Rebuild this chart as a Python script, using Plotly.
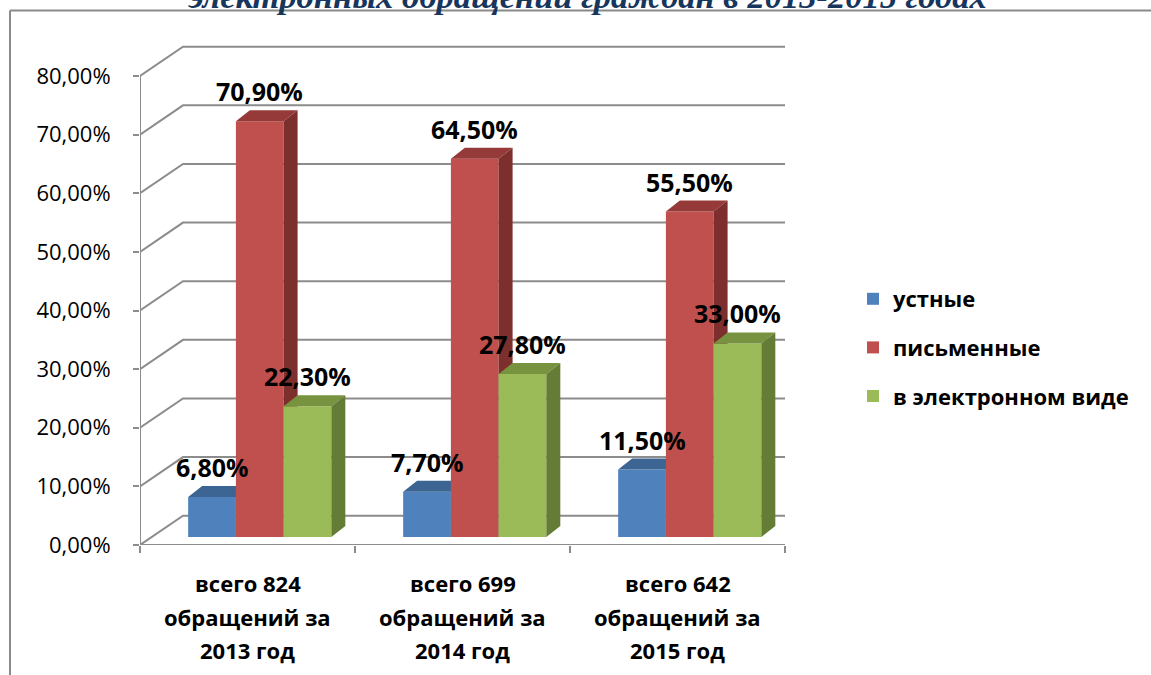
import plotly.graph_objects as go

# ---------------- data ----------------
categories = ["всего 824<br>обращений за<br>2013 год",
              "всего 699<br>обращений за<br>2014 год",
              "всего 642<br>обращений за<br>2015 год"]
series_names = ["устные", "письменные", "в электронном виде"]
oral = [6.8, 7.7, 11.5]
written = [70.9, 64.5, 55.5]
electronic = [22.3, 27.8, 33.0]
y_ticks = [0, 10, 20, 30, 40, 50, 60, 70, 80]
y_tick_labels = ["0,00%", "10,00%", "20,00%", "30,00%", "40,00%",
                 "50,00%", "60,00%", "70,00%", "80,00%"]
title_text = "электронных обращений граждан в 2013-2015 годах"

series_values = [oral, written, electronic]
front_colors = ["#4F81BD", "#C0504D", "#9BBB59"]
top_colors = ["#3D6594", "#953A38", "#77933F"]
side_colors = ["#345682", "#7C2F2D", "#647C36"]

# ---------------- geometry (in axis units) ----------------
W, H = 1151, 675
X0_PX, X1_PX = 140, 785       # front floor edge
Y0_PX, Y80_PX = 545, 76       # front 0% and 80%
YMAX = 88.0
ppu = (Y0_PX - Y80_PX) / 80.0
ytop_px = Y0_PX - YMAX * ppu

wall_dx, wall_dy = 0.2, 5.0    # depth of the back wall
bar_base = 1.37
bar_w = 0.222
group_shift = 0.057
bdx, bdy = 0.065, 1.88          # bar depth

fig = go.Figure()

def poly_trace(xs, ys, color):
    return go.Scatter(x=xs, y=ys, mode="lines", fill="toself", fillcolor=color,
                      line=dict(width=0, color=color), hoverinfo="skip",
                      showlegend=False)

label_annots = []
for s, vals in enumerate(series_values):
    fx, fy, tx, ty, sx, sy = [], [], [], [], [], []
    for i, v in enumerate(vals):
        xl = i + group_shift - 1.5 * bar_w + s * bar_w
        xr = xl + bar_w
        b = bar_base
        t = bar_base + v
        fx += [xl, xr, xr, xl, xl, None]
        fy += [b, b, t, t, b, None]
        tx += [xl, xr, xr + bdx, xl + bdx, xl, None]
        ty += [t, t, t + bdy, t + bdy, t, None]
        sx += [xr, xr + bdx, xr + bdx, xr, xr, None]
        sy += [b, b + bdy, t + bdy, t, b, None]
        label_annots.append(dict(
            x=(xl + xr) / 2, y=t + bdy, xref="x", yref="y",
            text=f"{v:.2f}".replace(".", ",") + "%", showarrow=False,
            yanchor="bottom", xanchor="center",
            font=dict(family="Open Sans", size=25, color="#000000", weight="bold")))
    fig.add_trace(poly_trace(fx, fy, front_colors[s]))
    fig.add_trace(poly_trace(tx, ty, top_colors[s]))
    fig.add_trace(poly_trace(sx, sy, side_colors[s]))

# legend entries
for s, name in enumerate(series_names):
    fig.add_trace(go.Scatter(x=[None], y=[None], mode="markers", name=name,
                             marker=dict(symbol="square", size=12, color=front_colors[s]),
                             legendgroup=f"g{s}"))

# ---------------- walls, gridlines, floor ----------------
grid_col = "#8C8C8C"
shapes = []
for v in y_ticks:
    shapes.append(dict(type="path", xref="x", yref="y", layer="below",
                       path=f"M -0.5,{v} L {-0.5 + wall_dx},{v + wall_dy} L {2.5 + wall_dx},{v + wall_dy}",
                       line=dict(color=grid_col, width=2)))
# floor front edge + right edge
shapes.append(dict(type="path", xref="x", yref="y", layer="below",
                   path=f"M -0.5,0 L 2.5,0 L {2.5 + wall_dx},{wall_dy}",
                   line=dict(color=grid_col, width=2)))
# front vertical axis line
shapes.append(dict(type="line", xref="x", yref="y", layer="below",
                   x0=-0.5, x1=-0.5, y0=0, y1=80,
                   line=dict(color=grid_col, width=2)))
# chart border (top and left)
shapes.append(dict(type="line", xref="paper", yref="paper",
                   x0=10 / W, x1=1.0, y0=(H - 10.5) / H, y1=(H - 10.5) / H,
                   line=dict(color="#8A8A8A", width=2)))
shapes.append(dict(type="line", xref="paper", yref="paper",
                   x0=10 / W, x1=10 / W, y0=0, y1=(H - 10.5) / H,
                   line=dict(color="#8A8A8A", width=2)))

# ---------------- category labels ----------------
cat_annots = []
line_y_px = [583, 617, 650]
for i, c in enumerate(categories):
    for k, line in enumerate(c.split("<br>")):
        cat_annots.append(dict(x=i, y=(H - line_y_px[k]) / H, xref="x", yref="paper",
                               text=line, showarrow=False, xanchor="center", yanchor="middle",
                               font=dict(family="Open Sans", size=22, color="#000000",
                                         weight="bold")))

title_annot = dict(x=587 / W, y=(H - 17) / H, xref="paper", yref="paper",
                   text=title_text, showarrow=False, xanchor="center", yanchor="bottom",
                   font=dict(family="Liberation Serif", size=34.5, color="#17365D",
                             weight="bold", style="italic"))

fig.update_layout(
    width=W, height=H,
    margin=dict(l=0, r=0, t=0, b=0, pad=0, autoexpand=False),
    paper_bgcolor="white", plot_bgcolor="white",
    font=dict(family="Open Sans", color="#000000"),
    xaxis=dict(domain=[X0_PX / W, X1_PX / W], range=[-0.5, 2.5], automargin=False,
               showgrid=False, zeroline=False, showline=False,
               tickvals=[-0.5, 0.5, 1.5, 2.5], ticks="outside", ticklen=7,
               tickwidth=2, tickcolor=grid_col, showticklabels=False, fixedrange=True),
    yaxis=dict(domain=[(H - Y0_PX) / H, (H - ytop_px) / H], range=[0, YMAX], automargin=False,
               showgrid=False, zeroline=False, showline=False,
               tickvals=y_ticks, ticktext=y_tick_labels, ticks="outside",
               ticklen=6, tickwidth=2, tickcolor=grid_col, ticklabelstandoff=18,
               tickfont=dict(family="Open Sans", size=22, color="#000000"),
               fixedrange=True),
    showlegend=True,
    legend=dict(x=853 / W, y=(H - 278) / H, xanchor="left", yanchor="top",
                font=dict(family="Open Sans", size=22, color="#000000", weight="bold"),
                tracegroupgap=17, itemsizing="constant", bgcolor="rgba(0,0,0,0)"),
    shapes=shapes,
    annotations=label_annots + cat_annots + [title_annot],
)

fig.write_html("out.html", config={"displayModeBar": False},
               post_script="document.body.style.margin='0';document.body.style.overflow='hidden';")
